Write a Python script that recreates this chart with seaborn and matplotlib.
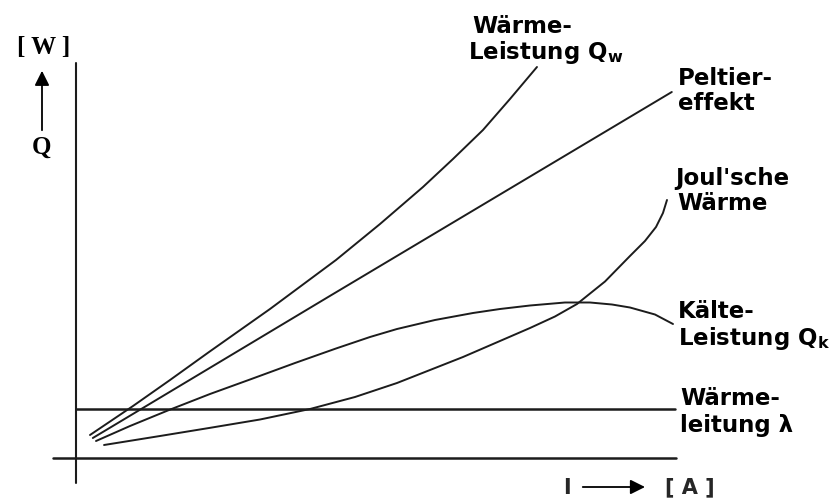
import numpy as np
import pandas as pd
import matplotlib
matplotlib.use("Agg")
import matplotlib.pyplot as plt
import seaborn as sns

# values (I in 0..100, Q in 0..100, arbitrary units)
qw_i = [2.33, 5.67, 9.5, 15.67, 22.17, 32.33, 43.33, 50.67, 57.83, 62.83, 67.83, 72.33, 76.83]
qw_q = [5.75, 9.125, 13.0, 19.5, 26.5, 37.25, 49.5, 58.5, 67.75, 74.75, 82.0, 89.75, 97.75]

peltier_i = [2.8, 42.3, 99.3]
peltier_q = [5.0, 40.5, 91.5]

joule_i = [4.67, 14.0, 22.17, 30.67, 39.0, 46.5, 53.5, 64.5, 75.67, 79.83,
           83.5, 88.17, 92.33, 94.83, 96.67, 97.83, 98.5]
joule_q = [3.25, 5.5, 7.5, 9.625, 12.25, 15.25, 18.75, 25.25, 32.5, 35.375,
           38.5, 44.125, 50.5, 54.25, 57.75, 61.25, 64.5]

qk_i = [3.33, 9.0, 15.5, 22.33, 29.0, 36.5, 43.33, 49.0, 53.5, 59.83,
        66.17, 70.67, 75.67, 81.5, 85.67, 89.33, 92.33, 96.5, 99.5]
qk_q = [4.25, 8.0, 12.0, 16.0, 19.625, 23.75, 27.375, 30.25, 32.25, 34.5,
        36.25, 37.25, 38.125, 38.875, 38.875, 38.375, 37.625, 35.875, 33.5]

lambda_i = [0.0, 99.8]
lambda_q = [12.25, 12.25]

sns.set_theme(style="white")
plt.rcParams['font.family'] = ['DejaVu Sans']
plt.rcParams['mathtext.default'] = 'bf'

fig = plt.figure(figsize=(8.36, 5.01), dpi=100)
ax = fig.add_axes([0, 0, 1, 1])
ax.set_xlim(-12.67, 126.67)
ax.set_ylim(-10.75, 114.5)
ax.axis("off")

ink = "#1c1c1c"
curves = [(qw_i, qw_q), (peltier_i, peltier_q), (joule_i, joule_q), (qk_i, qk_q)]
for xs, ys in curves:
    sns.lineplot(x=xs, y=ys, ax=ax, color=ink, lw=1.4, sort=False, estimator=None,
                 solid_joinstyle="round")
sns.lineplot(x=lambda_i, y=lambda_q, ax=ax, color=ink, lw=1.8, sort=False, estimator=None)

# axes cross
ax.plot([0, 0], [-6.25, 98.75], color=ink, lw=1.5)
ax.plot([-3.83, 100.0], [-0.1, -0.1], color=ink, lw=1.8)

# axis arrows
ax.annotate("", xy=(-5.67, 97.5), xytext=(-5.67, 81.25),
            arrowprops=dict(arrowstyle="-|>", color="black", lw=1.3, mutation_scale=22))
ax.annotate("", xy=(95.3, -7.25), xytext=(84.0, -7.25),
            arrowprops=dict(arrowstyle="-|>", color="black", lw=1.3, mutation_scale=22))

serif = dict(family="Liberation Serif", weight="bold", fontsize=18, color="black")
ax.text(-5.4, 102.6, "[ W ]", ha="center", va="center", **serif)
ax.text(-5.67, 77.6, "Q", ha="center", va="center", **serif)

lab = dict(fontsize=16.5, fontweight="bold", color="black", va="baseline", ha="left")
ax.text(81.75, -7.4, "I", ha="center", va="center", fontsize=15, fontweight="bold")
ax.text(102.25, -7.4, "[ A ]", ha="center", va="center", fontsize=15, fontweight="bold")

ax.text(66.0, 106.25, "Wärme-", **lab)
ax.text(65.3, 99.75, r"Leistung Q$_\mathbf{w}$", **lab)
ax.text(100.3, 93.25, "Peltier-", **lab)
ax.text(100.3, 87.0, "effekt", **lab)
ax.text(99.8, 68.25, "Joul'sche", **lab)
ax.text(100.3, 62.0, "Wärme", **lab)
ax.text(100.3, 35.0, "Kälte-", **lab)
ax.text(100.3, 28.25, r"Leistung Q$_\mathbf{k}$", **lab)
ax.text(100.7, 13.25, "Wärme-", **lab)
ax.text(100.7, 6.5, "leitung λ", **lab)

fig.savefig("out.png", dpi=100, facecolor="white")
